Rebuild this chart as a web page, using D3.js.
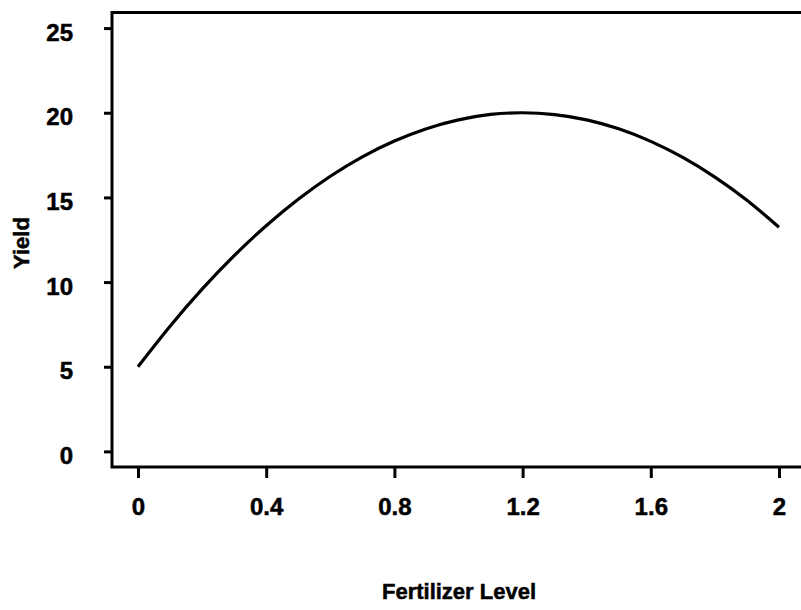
<!DOCTYPE html>
<html>
<head>
<meta charset="utf-8">
<script src="https://cdn.jsdelivr.net/npm/d3@7"></script>
<style>
  html, body { margin: 0; padding: 0; background: #fff; }
  svg { display: block; }
  text { font-family: "Liberation Sans", Arial, sans-serif; font-weight: bold; fill: #000; stroke: #000; stroke-width: 0.5px; }
</style>
</head>
<body>
<svg id="chart"></svg>
<script>
// fertilizer level vs yield
const fertilizer = [0, 0.1, 0.2, 0.3, 0.4, 0.5, 0.6, 0.7, 0.8, 0.9, 1.0,
                    1.1, 1.2, 1.3, 1.4, 1.5, 1.6, 1.7, 1.8, 1.9, 2.0];
const yieldVals = [5.0, 7.39, 9.58, 11.56, 13.33, 14.89, 16.25, 17.4, 18.33, 19.06, 19.58,
                   19.9, 20.0, 19.89, 19.58, 19.05, 18.31, 17.36, 16.2, 14.83, 13.24];
const xTicks = [0, 0.4, 0.8, 1.2, 1.6, 2];
const xTickLabels = ["0", "0.4", "0.8", "1.2", "1.6", "2"];
const yTicks = [0, 5, 10, 15, 20, 25];

const width = 801, height = 610;

const svg = d3.select("#chart")
    .attr("width", width)
    .attr("height", height);

const x = d3.scaleLinear().domain([0, 2]).range([138, 779]);
const y = d3.scaleLinear().domain([0, 25]).range([451.4, 28.1]);

// plot frame (right side runs off the page)
svg.append("path")
    .attr("d", "M812,12.5 H112 V467 H812")
    .attr("fill", "none")
    .attr("stroke", "#000")
    .attr("stroke-width", 3);

// y axis
const yAxis = svg.append("g")
    .attr("transform", "translate(112,0)")
    .call(d3.axisLeft(y).tickValues(yTicks).tickSize(8).tickPadding(31).tickFormat(d3.format("d")));
yAxis.select(".domain").remove();
yAxis.selectAll(".tick line").attr("stroke", "#000").attr("stroke-width", 3);
yAxis.selectAll(".tick text")
    .attr("font-size", 24)
    .attr("dy", "0.5em")
    .attr("fill", "#000");

// x axis
const xAxis = svg.append("g")
    .attr("transform", "translate(0,467)")
    .call(d3.axisBottom(x).tickValues(xTicks).tickSize(11).tickPadding(20)
      .tickFormat((d, i) => xTickLabels[i]));
xAxis.select(".domain").remove();
xAxis.selectAll(".tick line").attr("stroke", "#000").attr("stroke-width", 3);
xAxis.selectAll(".tick text")
    .attr("font-size", 24)
    .attr("dy", "0.71em")
    .attr("fill", "#000");

// axis titles
svg.append("text")
    .attr("x", 459)
    .attr("y", 599)
    .attr("text-anchor", "middle")
    .attr("font-size", 22)
    .text("Fertilizer Level");

svg.append("text")
    .attr("transform", "translate(29,243) rotate(-90)")
    .attr("text-anchor", "middle")
    .attr("font-size", 22)
    .text("Yield");

// curve
const line = d3.line()
    .x((d, i) => x(fertilizer[i]))
    .y(d => y(d))
    .curve(d3.curveNatural);

svg.append("path")
    .datum(yieldVals)
    .attr("d", line)
    .attr("fill", "none")
    .attr("stroke", "#000")
    .attr("stroke-width", 3.2);
</script>
</body>
</html>
